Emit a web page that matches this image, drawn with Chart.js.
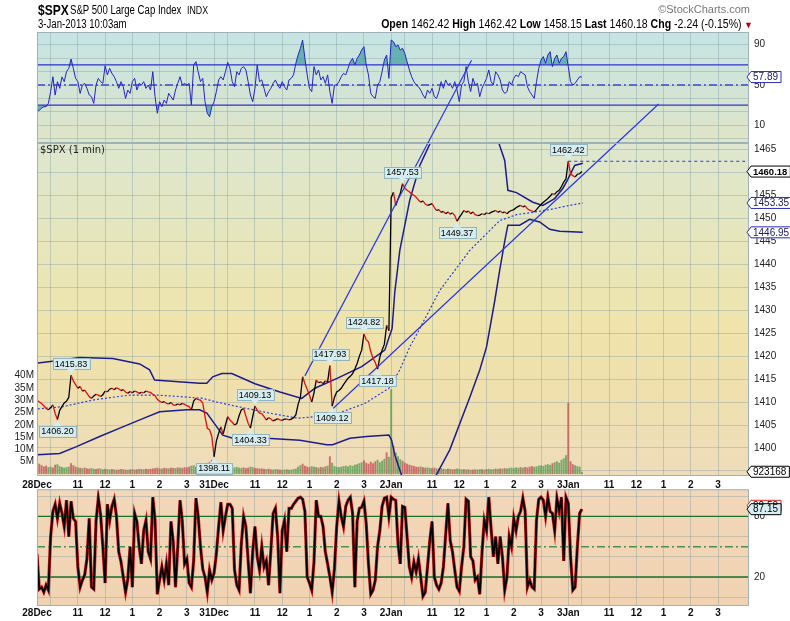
<!DOCTYPE html>
<html>
<head>
<meta charset="utf-8">
<script src="https://cdn.jsdelivr.net/npm/chart.js@4.4.1/dist/chart.umd.min.js"></script>
<style>
  body { margin: 0; background: #fff; }
  #wrap { position: relative; width: 790px; height: 621px; overflow: hidden; }
  canvas { position: absolute; left: 0; }
  .hd { position: absolute; white-space: nowrap; font-family: 'Liberation Sans', sans-serif; color: #000; transform-origin: left top; transform: scaleX(0.8); }
  .hr { transform-origin: right top; }
</style>
</head>
<body>
<div id="wrap">
  <canvas id="rsiChart" width="790" height="145" style="top:0"></canvas>
  <canvas id="priceChart" width="790" height="500" style="top:0"></canvas>
  <canvas id="stochChart" width="790" height="133" style="top:488px"></canvas>

  <div class="hd" style="left:38px;top:1px;font-size:15px;font-weight:bold">$SPX</div>
  <div class="hd" style="left:70px;top:3px;font-size:12px">S&amp;P 500 Large Cap Index</div>
  <div class="hd" style="left:187px;top:4px;font-size:11px">INDX</div>
  <div class="hd" style="left:38px;top:17px;font-size:12px">3-Jan-2013 10:03am</div>
  <div class="hd hr" style="right:40px;top:3px;font-size:11px;color:#777;transform:none">©StockCharts.com</div>
  <div class="hd hr" style="right:48px;top:17px;font-size:12px;transform:scaleX(0.88)"><b>Open</b> 1462.42 <b>High</b> 1462.42 <b>Low</b> 1458.15 <b>Last</b> 1460.18 <b>Chg</b> -2.24 (-0.15%)</div>
  <div class="hd" style="left:744px;top:20px;font-size:9px;color:#c00000;transform:none">▼</div>
  <div class="hd" style="left:40px;top:144px;font-size:10px;font-family:'DejaVu Sans',sans-serif;color:#222;transform:none">$SPX (1 min)</div>
</div>
<script>
const dayNames = ['28Dec', '31Dec', '2Jan', '3Jan']
const hourNames = ['', '11', '12', '1', '2', '3']
const hourOffsets = [30, 90, 150, 210, 270, 330]
const dayLength = 390 // 9:30 -> 16:00 in minutes
const sampleStep = 5
const xMax = 1568

// $SPX 1 min, read every 5 minutes, one list per session
const priceDays = [
  [1410.4, 1410.0, 1409.7, 1409.2, 1408.6, 1408.3, 1408.8, 1409.4, 1407.5, 1406.2,
    1408.2, 1409.0, 1409.8, 1410.2, 1411.0, 1415.83, 1414.6, 1413.8, 1413.0, 1413.4,
    1412.4, 1412.6, 1411.9, 1411.2, 1410.8, 1411.3, 1411.7, 1411.5, 1411.2, 1411.6,
    1412.4, 1412.2, 1412.8, 1413.0, 1412.7, 1413.1, 1412.9, 1412.5, 1412.7, 1412.2,
    1411.9, 1412.3, 1412.0, 1412.4, 1412.2, 1411.9, 1412.1, 1412.0, 1412.4, 1412.2,
    1412.1, 1411.7, 1411.4, 1410.6, 1410.2, 1409.9, 1410.1, 1409.7, 1409.6, 1409.9,
    1409.4, 1409.3, 1409.6, 1409.4, 1409.7, 1409.5, 1409.2, 1409.0, 1408.3, 1410.2,
    1410.8, 1410.5, 1410.4, 1409.8, 1406.8, 1404.3, 1404.0, 1402.5],
  [1398.11, 1401.5, 1403.2, 1404.6, 1403.0, 1405.0, 1406.8, 1406.1, 1405.6, 1405.0,
    1405.3, 1407.0, 1408.3, 1408.6, 1407.0, 1405.4, 1404.33, 1406.8, 1409.13, 1408.2,
    1407.6, 1407.5, 1406.8, 1406.1, 1406.6, 1406.3, 1405.9, 1406.1, 1406.4, 1406.1,
    1406.0, 1406.3, 1406.3, 1406.1, 1406.3, 1406.6, 1407.2, 1409.5, 1411.0, 1415.5,
    1414.0, 1412.8, 1411.5, 1410.0, 1412.0, 1414.8, 1414.2, 1414.4, 1414.0, 1414.6,
    1414.4, 1417.93, 1409.12, 1411.0, 1412.2, 1412.5, 1413.0, 1413.8, 1414.5, 1415.2,
    1415.6, 1416.2, 1417.2, 1418.4, 1420.0, 1421.3, 1424.82, 1423.6, 1423.1, 1421.0,
    1419.5, 1418.6, 1417.18, 1419.8, 1421.3, 1422.6, 1426.7, 1425.5],
  [1454.5, 1455.7, 1452.8, 1454.2, 1455.4, 1457.53, 1456.6, 1456.1, 1455.8, 1455.3,
    1455.0, 1454.6, 1454.0, 1453.5, 1453.8, 1453.1, 1452.8, 1453.0, 1453.2, 1452.4,
    1451.7, 1451.9, 1451.3, 1451.5, 1451.0, 1451.4, 1450.9, 1451.2, 1450.6, 1449.37,
    1450.2, 1450.9, 1451.7, 1451.3, 1451.6, 1451.0, 1451.4, 1450.8, 1450.6, 1450.7,
    1451.0, 1450.8, 1451.2, 1451.0, 1451.3, 1451.5, 1451.7, 1451.3, 1451.6, 1451.2,
    1451.4, 1451.0, 1451.5, 1451.7, 1451.9, 1452.3, 1452.6, 1452.8, 1452.5, 1452.7,
    1452.1, 1451.8, 1451.6, 1451.4, 1451.9, 1452.5, 1453.0, 1453.5, 1453.9, 1454.3,
    1454.8, 1455.4, 1455.2, 1455.8, 1456.1, 1456.9, 1457.9, 1458.6],
  [1462.42, 1459.7, 1459.3, 1459.0, 1459.6, 1459.7, 1460.18]
]

const rsiDays = [
  [23.6, 25, 27, 28.5, 28.5, 31.8, 43.4, 58.2, 40, 53.3,
    46.7, 58, 53.3, 63.2, 66.5, 75.7, 66.5, 56.6, 53.3, 41.7,
    50, 51.6, 46.7, 40.1, 38.4, 31.8, 50, 56.6, 53.3, 51.6,
    69, 60, 66.5, 61.5, 58.2, 53.3, 46.7, 53.3, 48.3, 36.8,
    45, 41.7, 53.3, 56.6, 45, 51.6, 50, 53.3, 46.7, 50,
    45, 63.2, 38.4, 22, 33.5, 28.5, 35.1, 31.8, 41.7, 38.4,
    35.1, 45, 51.6, 58.2, 50, 51.6, 50, 51.6, 30.2, 69.8,
    73.1, 63.2, 53.3, 56.6, 33.5, 22, 18.6, 28.5],
  [33.5, 43.4, 55, 58.2, 55, 63.2, 72.4, 66.5, 53.3, 48.3,
    63.2, 60, 66.5, 68.2, 64.9, 53.3, 40.1, 33.5, 46.7, 69.8,
    53.3, 55, 46.7, 38.4, 43.4, 46.7, 51.6, 55, 50, 46.7,
    53.3, 48.3, 45, 55, 56.6, 60, 71.5, 79.7, 86.3, 94.5,
    76.4, 60, 46.7, 43.4, 68.2, 60, 64.9, 55, 58.2, 51.6,
    60, 43.4, 31.8, 50, 50, 53.3, 58.2, 61.5, 60, 66.5,
    73.1, 76.4, 69.8, 76.4, 79.7, 84.6, 88, 69.8, 60, 41.7,
    38.4, 36.8, 50, 53.3, 63.2, 74.7, 79.7, 56.6],
  [94.5, 92.9, 88, 89.6, 84.6, 86.3, 81.3, 73.1, 64.9, 58.2,
    53.3, 50, 48.3, 45, 40.1, 36.8, 45, 41.7, 46.7, 38.4,
    36.8, 43.4, 53.3, 46.7, 55, 50, 51.6, 46.7, 53.3, 45,
    33.5, 50, 53.3, 68.2, 53.3, 43.4, 56.6, 50, 51.6, 38.4,
    46.7, 51.6, 56.6, 64.9, 53.3, 50, 63.2, 60, 55, 45,
    41.7, 43.4, 53.3, 50, 56.6, 60, 58.2, 63.2, 61.5, 60,
    48.3, 43.4, 40.1, 36.8, 53.3, 66.5, 74.7, 78.1, 71.5, 79.7,
    83, 68.2, 76.4, 79.7, 71.5, 76.4, 78.1, 83],
  [68.2, 53.3, 50, 51.6, 55, 58.2, 57.89]
]

const stochDays = [
  [43, 8, 10, 5, 12, 7, 60, 85, 92, 78,
    93, 83, 70, 96, 60, 95, 78, 75, 30, 10,
    17, 22, 38, 78, 10, 8, 75, 98, 82, 50,
    14, 92, 76, 90, 97, 80, 45, 35, 20, 5,
    18, 50, 10, 83, 75, 50, 33, 66, 76, 45,
    38, 99, 76, 3, 17, 30, 17, 33, 12, 75,
    55, 10, 50, 96, 75, 33, 38, 14, 10, 36,
    98, 80, 50, 28, 20, 5, 27, 17],
  [24, 43, 70, 94, 66, 80, 92, 92, 88, 27,
    12, 7, 53, 80, 70, 36, 4, 45, 70, 40,
    27, 50, 30, 36, 12, 46, 83, 88, 60, 4,
    66, 76, 45, 88, 88, 92, 95, 98, 99, 97,
    85, 20, 14, 7, 35, 96, 80, 80, 70, 45,
    33, 20, 5, 28, 70, 95, 80, 70, 90, 96,
    99, 83, 10, 75, 88, 89, 95, 73, 33, 3,
    7, 17, 50, 66, 90, 98, 99, 80],
  [99, 97, 96, 53, 33, 90, 89, 60, 30, 20,
    35, 25, 38, 20, 1, 5, 30, 56, 75, 20,
    12, 8, 14, 30, 62, 93, 56, 45, 27, 10,
    6, 30, 50, 97, 95, 40, 36, 17, 20, 3,
    44, 76, 66, 99, 68, 40, 60, 33, 60, 40,
    7, 20, 60, 50, 78, 66, 80, 85, 98, 85,
    10, 17, 10, 8, 76, 97, 99, 96, 80, 99,
    85, 83, 66, 98, 85, 99, 36, 99],
  [93, 40, 7, 10, 50, 83, 87.15]
]
const stochSignalLast = 90.5

// volume in millions
const volumeDays = [
  [5.5, 4.2, 3.6, 3.1, 3.4, 2.8, 3.0, 2.6, 3.8, 4.0,
    3.2, 2.9, 2.6, 2.8, 3.0, 4.4, 3.6, 3.0, 2.7, 2.5,
    2.4, 2.6, 2.3, 2.2, 2.4, 2.1, 2.0, 2.3, 2.2, 1.9,
    2.1, 2.0, 1.8, 2.0, 1.9, 1.7, 1.8, 2.0, 1.9, 1.8,
    1.7, 1.9, 2.0, 1.8, 1.9, 2.1, 2.0, 1.9, 2.2, 2.0,
    2.1, 2.3, 2.4, 2.6, 2.3, 2.2, 2.5, 2.4, 2.3, 2.6,
    2.5, 2.4, 2.7, 2.6, 2.5, 2.8, 2.7, 3.0, 3.4, 3.6,
    3.0, 2.9, 3.2, 3.5, 4.2, 4.6, 5.0, 5.8],
  [4.8, 4.5, 3.9, 3.6, 3.4, 3.1, 3.3, 2.9, 2.8, 2.7,
    2.9, 2.6, 2.5, 2.7, 2.4, 2.6, 3.0, 2.8, 2.5, 2.4,
    2.2, 2.3, 2.1, 2.0, 2.2, 1.9, 1.8, 2.0, 1.9, 1.8,
    1.7, 1.8, 1.9, 1.7, 1.8, 2.0, 2.2, 3.0, 3.6, 4.2,
    3.4, 3.0, 2.8, 3.2, 3.0, 2.8, 2.6, 2.9, 2.7, 3.1,
    3.4, 7.2, 4.6, 3.2, 2.9, 2.8, 3.0, 3.2, 3.4, 3.1,
    3.6, 3.3, 3.8, 4.0, 4.4, 4.8, 5.6, 4.6, 4.2, 5.0,
    4.4, 5.2, 5.8, 4.8, 5.4, 6.2, 8.8, 7.0],
  [34.5, 11.5, 8.8, 7.2, 6.0, 5.4, 4.6, 4.2, 3.8, 3.5,
    3.3, 3.0, 2.9, 3.1, 2.8, 2.6, 2.7, 2.5, 2.4, 2.6,
    2.3, 2.2, 2.4, 2.1, 2.0, 2.2, 2.1, 1.9, 2.0, 2.3,
    2.1, 1.9, 2.0, 1.8, 1.9, 1.7, 1.8, 1.9, 1.8, 2.0,
    1.9, 1.8, 2.0, 2.1, 1.9, 2.0, 2.2, 2.1, 2.3, 2.2,
    2.4, 2.3, 2.5, 2.6, 2.4, 2.7, 2.5, 2.8, 2.6, 2.9,
    2.7, 3.0, 3.2, 2.9, 3.1, 3.4, 3.6, 3.3, 3.8, 4.0,
    3.7, 4.4, 4.8, 5.2, 4.6, 5.8, 6.4, 7.6],
  [29.0, 5.2, 4.0, 3.6, 3.2, 3.0, 0.923168]
]

// bands, x in minutes from the first open
const upperBandMin = [2, 43, 94, 167, 226, 248, 259, 358, 374, 387, 407, 429, 480, 535, 583, 612, 662, 715, 766, 775,
  782, 788, 799, 821, 843, 869, 898, 953, 997, 1015, 1030, 1037, 1056, 1092, 1114, 1140, 1158, 1169, 1184, 1202]
const upperBand = [1418.5, 1419, 1419.7, 1419.5, 1418.3, 1417, 1414.8, 1414.1, 1414.1, 1415.5, 1416.2, 1416.2, 1414, 1412.2, 1410.8, 1413, 1415.2, 1417.7, 1421.3, 1424,
  1426, 1434, 1443, 1454, 1461.5, 1467, 1475, 1480, 1475, 1467, 1462.6, 1456.1, 1455.6, 1453.5, 1452.8, 1454.3, 1456.5, 1458.5, 1461.5, 1462]
const lowerBandMin = [2, 50, 87, 138, 189, 233, 270, 330, 358, 374, 396, 409, 431, 506, 579, 638, 651, 689, 726, 775,
  781, 788, 799, 810, 843, 876, 909, 953, 975, 990, 1008, 1019, 1030, 1037, 1063, 1085, 1107, 1129, 1151, 1202]
const lowerBand = [1398.5, 1398.8, 1400.3, 1402.5, 1404.6, 1406.4, 1407.9, 1408.3, 1408.3, 1407.6, 1404.6, 1402.8, 1402.1, 1402.1, 1401.7, 1400.7, 1400.7, 1402.1, 1402.5, 1402.8,
  1401.7, 1398.5, 1395.2, 1392, 1385, 1393.5, 1399.6, 1411, 1417, 1422, 1432, 1438.7, 1445, 1448.5, 1448.5, 1449.8, 1449.2, 1447.6, 1447.2, 1446.95]
const midBandMin = [2, 57, 94, 132, 204, 264, 314, 365, 396, 442, 517, 574, 612, 662, 722, 775, 799, 821, 843, 887,
  953, 1019, 1056, 1092, 1129, 1162, 1202]
const midBand = [1408.5, 1409, 1409.8, 1410.6, 1411.5, 1411.5, 1411.2, 1410.8, 1410, 1409, 1407.5, 1406.5, 1406.8, 1407.5, 1409.7, 1413, 1417, 1422, 1426, 1434.3,
  1443, 1449.5, 1450.8, 1451.3, 1451.9, 1452.6, 1453.35]

// marked highs and lows
const peakMin = [75, 45, 390, 470, 480, 645, 650, 720, 750, 805, 925, 1170]
const peakValue = [1415.83, 1406.20, 1398.11, 1404.33, 1409.13, 1417.93, 1409.12, 1424.82, 1417.18, 1457.53, 1449.37, 1462.42]
const peakSide = ['up', 'down', 'down', 'down', 'up', 'up', 'down', 'up', 'down', 'up', 'down', 'up']

const trendLines = [
  [[590, 1415.7], [957, 1484.4]],
  [[652, 1408.6], [1369, 1474.9]]
]

const priceTicks = [1395, 1400, 1405, 1410, 1415, 1420, 1425, 1430, 1435, 1440, 1445, 1450, 1455, 1460, 1465]
const volumeTicks = [5, 10, 15, 20, 25, 30, 35, 40]
const rsiLabels = [10, 30, 50, 70, 90]
const stochLabels = [20, 50, 80]

const family = 'Liberation Sans'
const gridColor = 'rgba(120, 150, 160, 0.36)'
const navy = '#1c1c8c'
const trendBlue = '#2b38e6'
Chart.defaults.font.family = family

const flat = days => days.flatMap((vals, d) => vals.map((v, i) => ({ x: d * dayLength + i * sampleStep, y: v })))
const pairs = (xs, ys) => xs.map((x, i) => ({ x, y: ys[i] }))
const hLine = v => [{ x: 0, y: v }, { x: xMax, y: v }]
const last = a => a[a.length - 1]

const pricePts = flat(priceDays)
const rsiPts = flat(rsiDays)
const stochPts = flat(stochDays)
const volumePts = flat(volumeDays)
const volumeColors = pricePts.map((p, i) => {
  const next = pricePts[i + 1]
  const up = next ? next.y >= p.y : p.y >= pricePts[i - 1].y
  return up ? 'rgba(98, 160, 88, 0.85)' : 'rgba(198, 92, 92, 0.85)'
})

const xTickList = []
const xLabelAt = {}
dayNames.forEach((name, d) => {
  xTickList.push(d * dayLength)
  xLabelAt[d * dayLength] = name
  hourOffsets.forEach((o, j) => {
    xTickList.push(d * dayLength + o)
    xLabelAt[d * dayLength + o] = hourNames[j]
  })
})

// no extra room for labels hanging over the plot edges
const noPad = (s) => { s.paddingTop = 0; s.paddingBottom = 0; s.paddingLeft = 0; s.paddingRight = 0 }

function xAxis (showLabels, height, pad) {
  return {
    type: 'linear',
    min: 0,
    max: xMax,
    offset: false,
    afterBuildTicks: (s) => { s.ticks = xTickList.map(v => ({ value: v })) },
    afterFit: (s) => { s.height = height; noPad(s) },
    grid: { color: gridColor, drawTicks: false, offset: false },
    border: { display: false },
    ticks: {
      display: showLabels,
      autoSkip: false,
      maxRotation: 0,
      padding: pad,
      color: '#111',
      font: { family, size: 10, weight: 'bold' },
      callback: v => xLabelAt[v] ?? ''
    }
  }
}

function rightAxis (min, max, tickVals, labelVals) {
  return {
    position: 'right',
    min,
    max,
    afterBuildTicks: (s) => { s.ticks = tickVals.map(v => ({ value: v })) },
    afterFit: (s) => { s.width = 41; noPad(s) },
    grid: { color: gridColor, drawTicks: false },
    border: { display: false },
    ticks: {
      padding: 5,
      color: '#222',
      font: { family, size: 10 },
      callback: v => labelVals.includes(v) ? String(v) : ''
    }
  }
}

function drawTag (ctx, x, y, tag) {
  ctx.save()
  ctx.font = (tag.bold ? 'bold 9.5px ' : '10px ') + family
  const w = ctx.measureText(tag.text).width + 5
  const h = 11
  ctx.beginPath()
  ctx.moveTo(x, y)
  ctx.lineTo(x + 4, y - h / 2)
  ctx.lineTo(x + 4 + w, y - h / 2)
  ctx.lineTo(x + 4 + w, y + h / 2)
  ctx.lineTo(x + 4, y + h / 2)
  ctx.closePath()
  ctx.fillStyle = tag.bg || '#fff'
  ctx.fill()
  ctx.lineWidth = 1
  ctx.strokeStyle = tag.border
  ctx.stroke()
  ctx.fillStyle = tag.color || '#000'
  ctx.textBaseline = 'middle'
  ctx.fillText(tag.text, x + 6, y + 0.5)
  ctx.restore()
}

// gradient behind the plot, frame and last-value tags
function panelPlugin (stops, tags) {
  return {
    id: 'panel',
    beforeDraw (chart) {
      const { ctx, chartArea: a } = chart
      const g = ctx.createLinearGradient(0, a.top, 0, a.bottom)
      stops.forEach(([o, c]) => g.addColorStop(o, c))
      ctx.save()
      ctx.fillStyle = g
      ctx.fillRect(a.left, a.top, a.right - a.left, a.bottom - a.top)
      ctx.restore()
    },
    afterDraw (chart) {
      const { ctx, chartArea: a } = chart
      ctx.save()
      ctx.strokeStyle = '#9fb2b8'
      ctx.lineWidth = 1
      ctx.strokeRect(a.left + 0.5, a.top + 0.5, a.right - a.left - 1, a.bottom - a.top - 1)
      ctx.restore()
      tags.forEach(t => drawTag(ctx, a.right - 2, chart.scales[t.scale].getPixelForValue(t.value), t))
    }
  }
}

const peakPlugin = {
  id: 'peaks',
  afterDatasetsDraw (chart) {
    const { ctx, scales } = chart
    ctx.save()
    ctx.font = '9px ' + family
    ctx.textAlign = 'center'
    ctx.textBaseline = 'middle'
    peakValue.forEach((v, i) => {
      const px = scales.x.getPixelForValue(peakMin[i])
      const py = scales.y.getPixelForValue(v)
      const text = v.toFixed(2)
      const w = ctx.measureText(text).width + 4
      const h = 11
      const up = peakSide[i] === 'up'
      const edge = up ? py - 6 : py + 6
      const top = up ? edge - h : edge
      ctx.fillStyle = '#d6ecef'
      ctx.strokeStyle = '#92b4bc'
      ctx.lineWidth = 1
      ctx.fillRect(px - w / 2, top, w, h)
      ctx.strokeRect(Math.round(px - w / 2) + 0.5, Math.round(top) + 0.5, Math.round(w), h)
      ctx.beginPath()
      ctx.moveTo(px - 4, edge + (up ? -0.5 : 0.5))
      ctx.lineTo(px, up ? py - 1 : py + 1)
      ctx.lineTo(px + 4, edge + (up ? -0.5 : 0.5))
      ctx.closePath()
      ctx.fill()
      ctx.fillStyle = '#000'
      ctx.fillText(text, px, top + h / 2 + 0.5)
    })
    ctx.restore()
  }
}

const baseOptions = {
  responsive: false,
  animation: false,
  devicePixelRatio: 1,
  events: [],
  elements: { point: { radius: 0 }, line: { tension: 0 } },
  plugins: { legend: { display: false }, tooltip: { enabled: false } }
}

// RSI panel
const rsiGrid = []
for (let k = -2; k <= 13; k++) rsiGrid.push(10 + (k * 20) / 3)
new Chart(document.getElementById('rsiChart'), {
  type: 'line',
  data: {
    datasets: [
      { data: rsiPts, borderColor: '#2424c8', borderWidth: 1, order: 1 },
      { data: rsiPts, borderColor: 'transparent', borderWidth: 0, fill: { target: { value: 70 }, above: 'rgba(70, 160, 160, 0.75)', below: 'transparent' }, order: 4 },
      { data: rsiPts, borderColor: 'transparent', borderWidth: 0, fill: { target: { value: 30 }, above: 'transparent', below: 'rgba(70, 160, 160, 0.75)' }, order: 4 },
      { data: hLine(70), borderColor: '#3232cc', borderWidth: 1.3, order: 2 },
      { data: hLine(30), borderColor: '#3232cc', borderWidth: 1.3, order: 2 },
      { data: hLine(50), borderColor: '#4444d0', borderWidth: 1.3, borderDash: [8, 3, 2, 3], order: 2 }
    ]
  },
  options: {
    ...baseOptions,
    layout: { padding: { top: 32, left: 37, right: 0, bottom: 0 } },
    scales: {
      x: xAxis(false, 2, 0),
      y: rightAxis(-7.43, 102.48, rsiGrid, rsiLabels)
    }
  },
  plugins: [panelPlugin(
    [[0, '#c5e4e3'], [0.5, '#d2e4d6'], [1, '#dfe5c6']],
    [{ scale: 'y', value: last(rsiPts).y, text: last(rsiPts).y.toFixed(2), border: '#3030c0', color: '#1a1a60' }]
  )]
})

// price panel with volume
new Chart(document.getElementById('priceChart'), {
  type: 'line',
  data: {
    datasets: [
      { type: 'bar', data: volumePts, yAxisID: 'vol', backgroundColor: volumeColors, barPercentage: 1, categoryPercentage: 0.85, order: 9 },
      { data: pairs(upperBandMin, upperBand), yAxisID: 'y', borderColor: navy, borderWidth: 1.5, order: 5 },
      { data: pairs(lowerBandMin, lowerBand), yAxisID: 'y', borderColor: navy, borderWidth: 1.5, order: 5 },
      { data: pairs(midBandMin, midBand), yAxisID: 'y', borderColor: '#2f3fd8', borderWidth: 1.2, borderDash: [2, 2], order: 5 },
      {
        data: pricePts,
        yAxisID: 'y',
        borderWidth: 1.3,
        borderColor: '#000',
        segment: { borderColor: c => c.p1.parsed.y < c.p0.parsed.y ? '#e01010' : '#000' },
        order: 2
      },
      ...trendLines.map(t => ({ data: t.map(([x, y]) => ({ x, y })), yAxisID: 'y', borderColor: trendBlue, borderWidth: 1.2, clip: false, order: 1 })),
      { data: [{ x: last(peakMin), y: last(peakValue) }, { x: xMax, y: last(peakValue) }], yAxisID: 'y', borderColor: trendBlue, borderWidth: 1, borderDash: [3, 3], order: 1 }
    ]
  },
  options: {
    ...baseOptions,
    layout: { padding: { top: 143, left: 0, right: 0, bottom: 0 } },
    scales: {
      x: xAxis(true, 24, 3),
      y: rightAxis(1393.9, 1466.4, priceTicks, priceTicks.filter(v => v >= 1400)),
      vol: {
        position: 'left',
        min: -0.8,
        max: 134.7,
        afterBuildTicks: (s) => { s.ticks = volumeTicks.map(v => ({ value: v })) },
        afterFit: (s) => { s.width = 37; noPad(s) },
        grid: { display: false, drawTicks: false },
        border: { display: false },
        ticks: { padding: 3, color: '#222', font: { family, size: 10 }, callback: v => v + 'M' }
      }
    }
  },
  plugins: [
    panelPlugin(
      [[0, '#dde6cf'], [0.3, '#e7e6bc'], [0.55, '#efe4ab'], [0.75, '#efe0ae'], [1, '#eedcbb']],
      [
        { scale: 'y', value: last(lowerBand), text: last(lowerBand).toFixed(2), border: '#2c2cb0', color: '#1a1a60' },
        { scale: 'y', value: last(midBand), text: last(midBand).toFixed(2), border: '#2c2cb0', color: '#1a1a60' },
        { scale: 'y', value: last(pricePts).y, text: last(pricePts).y.toFixed(2), border: '#000', bold: true },
        { scale: 'vol', value: last(volumePts).y, text: String(Math.round(last(volumePts).y * 1e6)), border: '#000' }
      ]
    ),
    peakPlugin
  ]
})

// stochastic panel
const stochGrid = []
for (let k = 0; k <= 16; k++) stochGrid.push((k * 20) / 3)
stochGrid.push(50)
new Chart(document.getElementById('stochChart'), {
  type: 'line',
  data: {
    datasets: [
      { data: stochPts, borderColor: '#d81818', borderWidth: 3.2, order: 3 },
      { data: stochPts, borderColor: '#000', borderWidth: 1.8, order: 1 },
      { data: hLine(80), borderColor: '#1e6e2c', borderWidth: 1.3, order: 2 },
      { data: hLine(20), borderColor: '#1e6e2c', borderWidth: 1.3, order: 2 },
      { data: hLine(50), borderColor: '#4f8f58', borderWidth: 1.5, borderDash: [8, 3, 2, 3], order: 2 }
    ]
  },
  options: {
    ...baseOptions,
    layout: { padding: { top: 1.3, left: 37, right: 0, bottom: 0 } },
    scales: {
      x: xAxis(true, 15, 1),
      y: rightAxis(-8.71, 106.83, stochGrid, stochLabels)
    }
  },
  plugins: [panelPlugin(
    [[0, '#f2d7b8'], [1, '#f0d3b2']],
    [
      { scale: 'y', value: stochSignalLast, text: stochSignalLast.toFixed(2), border: '#e02020', bg: '#fff' },
      { scale: 'y', value: last(stochPts).y, text: last(stochPts).y.toFixed(2), border: '#000', bg: '#d8eef2' }
    ]
  )]
})
</script>
</body>
</html>
